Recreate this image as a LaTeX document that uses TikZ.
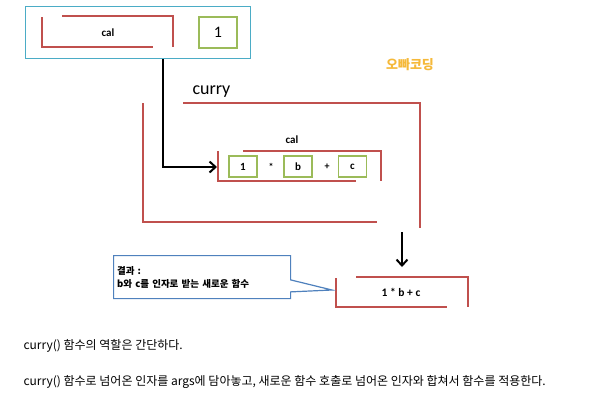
\documentclass[tikz,border=0pt]{standalone}
\usepackage{fontspec}
\setmainfont{Carlito}
\newfontfamily\kofont{Noto Sans CJK KR}
\usetikzlibrary{shapes.callouts, arrows.meta, positioning}
\definecolor{brk}{RGB}{192,80,77}
\definecolor{grn}{RGB}{155,187,89}
\definecolor{skyline}{RGB}{75,172,198}
\definecolor{noteline}{RGB}{79,129,189}
\definecolor{logo}{RGB}{245,185,58}

\begin{document}
\begin{tikzpicture}[
            x=1pt, y=-1pt,
            bracket/.style={draw=brk, line width=2.5pt},
            valbox/.style={rectangle, draw=grn, line width=1.2pt, minimum width=28pt, minimum height=21pt, inner sep=0pt, font=\fontsize{11}{12}\selectfont\bfseries},
            opsign/.style={inner sep=0pt, font=\fontsize{10}{11}\selectfont\bfseries},
            tag/.style={font=\fontsize{11}{12}\selectfont\bfseries},
            line/.style={draw, line width=2pt, -{Straight Barb[length=6pt, width=11pt, line width=2pt]}}
        ]
            \useasboundingbox (0,0) rectangle (600,400);
            % Top: cal and its argument
            \node [rectangle, draw=skyline, line width=1.3pt, minimum width=225pt, minimum height=52pt, anchor=north west] (topbox) at (25,6) {};
            \node [tag] (topcal) at (108,33) {cal};
            \node [valbox, minimum width=38pt, minimum height=31pt, font=\fontsize{16}{18}\selectfont] (argone) at (218,32.5) {1};
            \draw [bracket] (42,17) -- (42,47) -- (153,47);
            \draw [bracket] (62,16) -- (173,16) -- (173,47);
            
            % Logo
            \node [font=\kofont\fontsize{13}{14}\selectfont\bfseries, text=logo] (brand) at (410,65) {오빠코딩};
            
            % curry
            \node [font=\fontsize{18}{20}\selectfont, anchor=west] (currylbl) at (189,92) {curry};
            \draw [bracket] (183,103) -- (420,103) -- (420,228);
            \draw [bracket] (143,103) -- (143,222) -- (377,222);
            
            % inner cal
            \node [tag] (innercal) at (292,140) {cal};
            \draw [bracket] (243,151) -- (381,151) -- (381,181);
            \draw [bracket] (218,151) -- (218,181) -- (356,181);
            \node [valbox] (one) at (243,166.5) {1};
            \node [opsign] (times) at (271,167) {*};
            \node [valbox] (bee) at (298,166.5) {b};
            \node [opsign] (plus) at (327,166.5) {+};
            \node [valbox] (cee) at (352.5,166.5) {c};
            \coordinate (innerin) at (217,167);
            
            % Result
            \draw [bracket] (336,278) -- (336,307) -- (447,307);
            \draw [bracket] (356,277) -- (468,277) -- (468,307);
            \node [font=\fontsize{11.5}{12}\selectfont\bfseries] (result) at (401,292) {1 * b + c};
            \coordinate (resultin) at (402,267);
            \coordinate (curryout) at (402,232);
            
            % Callout
            \node [rectangle callout, draw=noteline, line width=1.2pt, fill=white, minimum width=177pt, minimum height=43pt, callout absolute pointer={(332,290)}, callout pointer width=12pt, align=left, anchor=north west, text width=170pt, inner sep=3pt, font=\kofont\fontsize{9.5}{13}\selectfont\bfseries] (note) at (113,255) {결과 :\\ b와 c를 인자로 받는 새로운 함수};
            
            % Edges
            \path [line] (topbox.south -| 163,0) |- (innerin);
            \path [line] (curryout) -- (resultin);
            
            % Text below
            \node [font=\kofont\fontsize{12}{14}\selectfont, anchor=west] (lineone) at (20,346) {curry() 함수의 역할은 간단하다.};
            \node [font=\kofont\fontsize{12}{14}\selectfont, anchor=west] (linetwo) at (20,382) {curry() 함수로 넘어온 인자를 args에 담아놓고, 새로운 함수 호출로 넘어온 인자와 합쳐서 함수를 적용한다.};
        \end{tikzpicture}
\end{document}
